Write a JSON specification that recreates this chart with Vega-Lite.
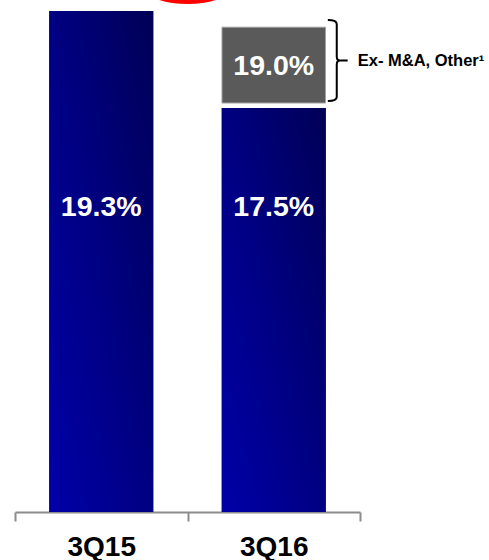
{
  "$schema": "https://vega.github.io/schema/vega-lite/v6.json",
  "autosize": {"type": "none"},
  "padding": {"left": 15, "right": 129, "top": 0, "bottom": 48},
  "width": 345,
  "height": 512,
  "background": "white",
  "config": {"view": {"stroke": null}, "font": "Liberation Sans"},
  "datasets": {
    "bars": [
      {"q": "3Q15", "value": 19.3, "label": "19.3%"},
      {"q": "3Q16", "value": 17.5, "label": "17.5%"}
    ],
    "other": [
      {"q": "3Q16", "start": 17.5, "end": 19.0, "label": "19.0%", "note": "Ex- M&A, Other¹"}
    ]
  },
  "layer": [
    {
      "data": {"name": "bars"},
      "mark": {
        "type": "bar",
        "width": {"band": 0.605},
        "color": {
          "gradient": "linear",
          "x1": 0, "y1": 1, "x2": 1, "y2": 0,
          "stops": [
            {"offset": 0, "color": "#0000a8"},
            {"offset": 0.5, "color": "#000082"},
            {"offset": 1, "color": "#000056"}
          ]
        }
      },
      "encoding": {
        "x": {
          "field": "q", "type": "nominal", "title": null,
          "scale": {"domain": ["3Q15", "3Q16"], "paddingInner": 0, "paddingOuter": 0},
          "axis": {
            "orient": "bottom",
            "tickBand": "extent",
            "domainColor": "#8c8c8c",
            "domainWidth": 2,
            "tickColor": "#8c8c8c",
            "tickWidth": 2,
            "tickSize": 9,
            "labelAngle": 0,
            "labelFont": "Liberation Sans",
            "labelFontSize": 28,
            "labelFontWeight": "bold",
            "labelColor": "#000000",
            "labelBaseline": "alphabetic",
            "labelPadding": 34,
            "grid": false
          }
        },
        "y": {
          "field": "value", "type": "quantitative",
          "scale": {"domain": [10, 19.505], "nice": false, "zero": false},
          "axis": null
        },
        "y2": {"datum": 10}
      }
    },
    {
      "data": {"name": "bars"},
      "mark": {"type": "text", "color": "white", "font": "Liberation Sans", "fontSize": 28.5, "fontWeight": "bold", "baseline": "alphabetic", "align": "center"},
      "encoding": {
        "x": {"field": "q", "type": "nominal"},
        "y": {"datum": 15.5},
        "text": {"field": "label"}
      }
    },
    {
      "data": {"name": "other"},
      "mark": {"type": "bar", "width": {"band": 0.6}, "color": "#5a5a5a", "stroke": "#a0a0a0", "strokeWidth": 1, "y2Offset": -5},
      "encoding": {
        "x": {"field": "q", "type": "nominal"},
        "y": {"field": "end", "type": "quantitative"},
        "y2": {"field": "start"}
      }
    },
    {
      "data": {"name": "other"},
      "mark": {"type": "text", "color": "white", "font": "Liberation Sans", "fontSize": 28.5, "fontWeight": "bold", "baseline": "alphabetic", "align": "center"},
      "encoding": {
        "x": {"field": "q", "type": "nominal"},
        "y": {"datum": 18.11},
        "text": {"field": "label"}
      }
    },
    {
      "data": {"name": "other"},
      "mark": {
        "type": "point",
        "shape": "M -0.22 -1 Q 0 -1 0 -0.9 L 0 -0.1 Q 0 0 0.08 0 L 0.27 0 M 0.08 0 Q 0 0 0 0.1 L 0 0.9 Q 0 1 -0.22 1",
        "size": 6561,
        "filled": false,
        "stroke": "black",
        "strokeWidth": 2,
        "opacity": 1,
        "xOffset": 63
      },
      "encoding": {
        "x": {"field": "q", "type": "nominal"},
        "y": {"datum": 18.38}
      }
    },
    {
      "data": {"name": "other"},
      "mark": {"type": "text", "color": "black", "font": "Liberation Sans", "fontSize": 16.5, "fontWeight": "bold", "baseline": "alphabetic", "align": "left", "dx": 84},
      "encoding": {
        "x": {"field": "q", "type": "nominal"},
        "y": {"datum": 18.28},
        "text": {"field": "note"}
      }
    },
    {
      "data": {"name": "other"},
      "mark": {
        "type": "point",
        "shape": "M -1 0 A 1 0.4 0 1 0 1 0 A 1 0.4 0 1 0 -1 0 Z",
        "size": 8100,
        "filled": true,
        "color": "#ff0000",
        "opacity": 1,
        "clip": true
      },
      "encoding": {
        "x": {"field": "q", "type": "nominal", "bandPosition": 0},
        "y": {"datum": 19.765}
      }
    }
  ]
}
